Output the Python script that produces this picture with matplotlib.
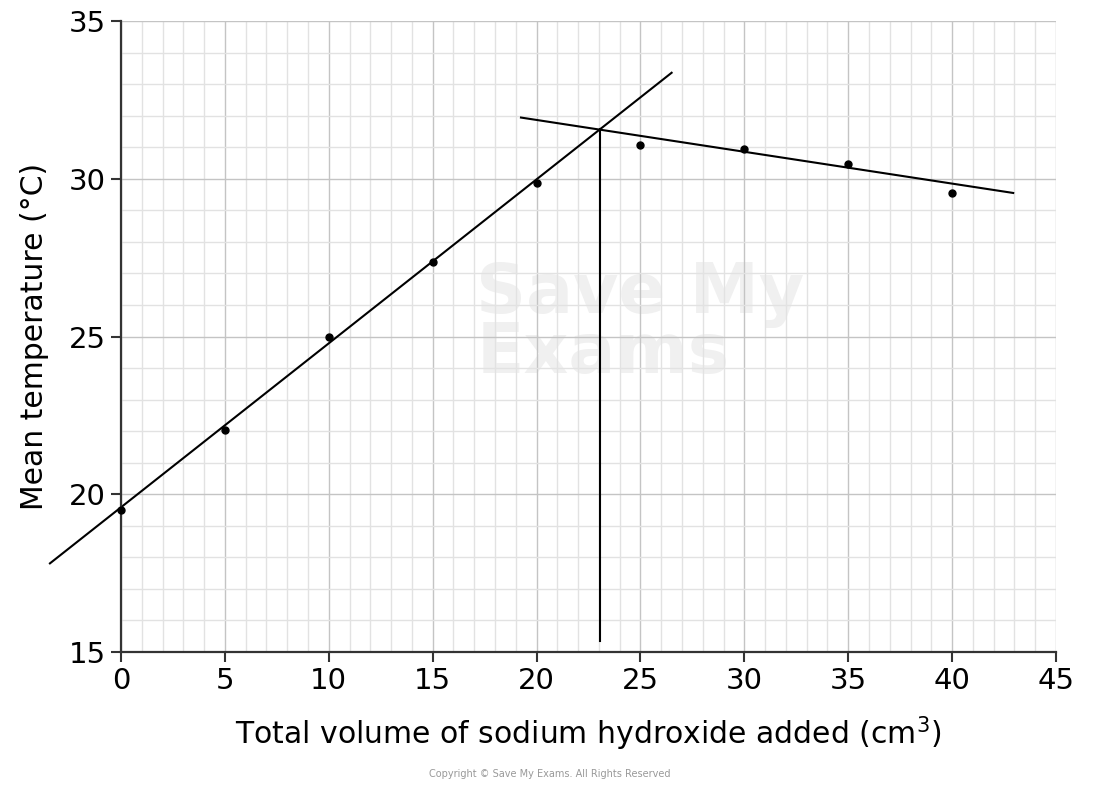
import numpy as np
import matplotlib
matplotlib.use("Agg")
from matplotlib import pyplot as plt
from matplotlib.ticker import MultipleLocator

# measured points
volume = [0, 5, 10, 15, 20, 25, 30, 35, 40]
temp = [19.5, 22.05, 24.97, 27.37, 29.87, 31.06, 30.95, 30.46, 29.56]

# best-fit lines drawn by hand (end points)
rise_x = [-3.42, 26.5]
rise_y = [17.81, 33.36]
fall_x = [19.25, 42.94]
fall_y = [31.94, 29.55]
# end point volume
end_x = [23.03, 23.03]
end_y = [31.57, 15.35]

fig = plt.figure(figsize=(11, 7.87), dpi=100)
ax = fig.add_axes([0.110, 0.1715, 0.850, 0.8018])

ax.set_xlim(0, 45)
ax.set_ylim(15, 35)
ax.xaxis.set_major_locator(MultipleLocator(5))
ax.xaxis.set_minor_locator(MultipleLocator(1))
ax.yaxis.set_major_locator(MultipleLocator(5))
ax.yaxis.set_minor_locator(MultipleLocator(1))
ax.grid(which="minor", color="#e2e2e2", linewidth=1.0)
ax.grid(which="major", color="#c4c4c4", linewidth=1.0)
ax.set_axisbelow(True)

for s in ["top", "right"]:
    ax.spines[s].set_visible(False)
for s in ["left", "bottom"]:
    ax.spines[s].set_color("#333333")
    ax.spines[s].set_linewidth(1.6)

ax.tick_params(which="major", length=7, width=1.5, color="#333333",
               labelsize=21, pad=4)
ax.tick_params(which="minor", length=0)

# watermark
ax.text(0.38, 0.52, "Save My\nExams", transform=ax.transAxes, fontsize=50,
        fontweight="bold", color="#f0f0f0", ha="left", va="center",
        linespacing=0.85, zorder=0)

ax.plot(rise_x, rise_y, color="black", linewidth=1.5, clip_on=False)
ax.plot(fall_x, fall_y, color="black", linewidth=1.5, clip_on=False)
ax.plot(end_x, end_y, color="black", linewidth=1.5)
ax.plot(volume, temp, "o", color="black", markersize=5, clip_on=False, zorder=5)

ax.set_xlabel("Total volume of sodium hydroxide added (cm$^3$)", fontsize=21.5,
              labelpad=14)
ax.set_ylabel("Mean temperature (°C)", fontsize=21.5, labelpad=14)

fig.text(0.5, 0.013, "Copyright © Save My Exams. All Rights Reserved",
         ha="center", fontsize=7, color="#999999")

fig.savefig("out.png", dpi=100)
